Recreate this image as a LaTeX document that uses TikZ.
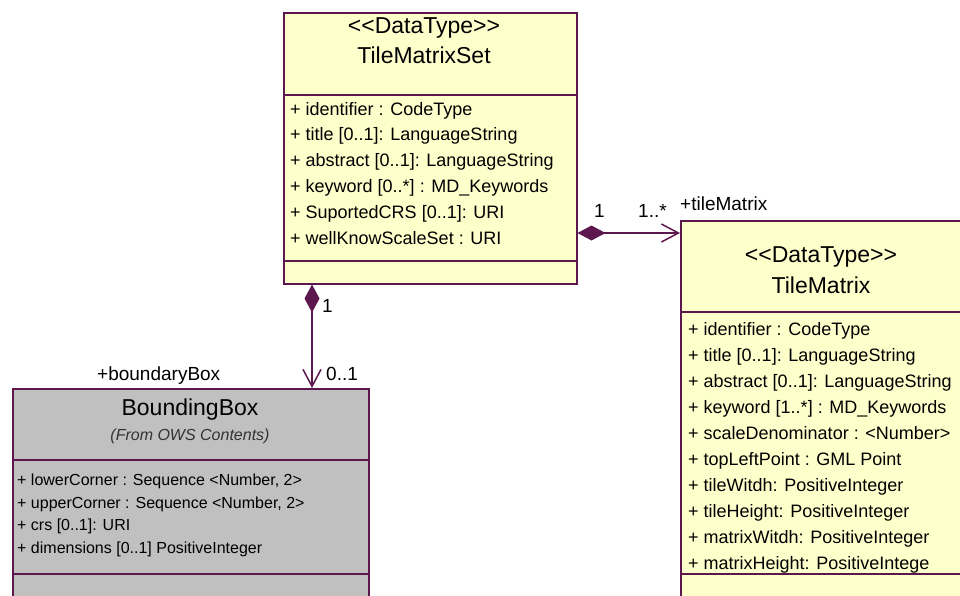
\documentclass[tikz,border=0pt]{standalone}
\usepackage{fontspec}
\setmainfont{Liberation Sans}
\usetikzlibrary{arrows.meta}
\definecolor{umlline}{RGB}{92,24,78}
\definecolor{umlfill}{RGB}{255,255,204}
\definecolor{umlgray}{RGB}{192,192,192}
\newcommand{\stereo}[1]{<\kern0pt<#1>\kern0pt>}
\begin{document}
\begin{tikzpicture}[x=1pt,y=-1pt,
  classbox/.style={draw=umlline, line width=1.5pt, fill=umlfill, inner sep=0pt, anchor=north west},
  graybox/.style={classbox, fill=umlgray},
  sepline/.style={draw=umlline, line width=1.5pt},
  titletext/.style={anchor=base, inner sep=0pt, font=\fontsize{23}{25}\selectfont},
  subtext/.style={anchor=base, inner sep=0pt, font=\fontsize{16}{18}\selectfont\itshape, text=black!80},
  attr/.style={anchor=base west, inner sep=0pt, font=\fontsize{18}{20}\selectfont},
  smallattr/.style={anchor=base west, inner sep=0pt, font=\fontsize{16}{18}\selectfont},
  lbl/.style={anchor=base west, inner sep=0pt, font=\fontsize{19}{21}\selectfont},
  comp/.style={draw=umlline, line width=1.5pt, {Diamond[length=28pt,width=15pt]}-{Straight Barb[length=17pt,width=18pt]}}
]
\useasboundingbox (0,0) rectangle (960,595);
\fill[white] (0,0) rectangle (960,595);
\clip (0,0) rectangle (960,595);

% TileMatrixSet
\node[classbox, minimum width=293pt, minimum height=271pt] (tms) at (283,12) {};
\draw[sepline] (tms.west |- 0,95) -- (tms.east |- 0,95);
\draw[sepline] (tms.west |- 0,261) -- (tms.east |- 0,261);
\node[titletext] (tmsst) at (424,33) {\stereo{DataType}};
\node[titletext] (tmsname) at (424,63) {TileMatrixSet};
\node[attr] (tmsa1) at (290,115) {+ identifier : CodeType};
\node[attr] (tmsa2) at (290,140.8) {+ title [0..1]: LanguageString};
\node[attr] (tmsa3) at (290,166.6) {+ abstract [0..1]: LanguageString};
\node[attr] (tmsa4) at (290,192.4) {+ keyword [0..*] : MD\_Keywords};
\node[attr] (tmsa5) at (290,218.2) {+ SuportedCRS [0..1]: URI};
\node[attr] (tmsa6) at (290,244) {+ wellKnowScaleSet : URI};

% TileMatrix
\node[classbox, minimum width=285pt, minimum height=400pt] (tm) at (680,220) {};
\draw[sepline] (tm.west |- 0,312) -- (tm.east |- 0,312);
\draw[sepline] (tm.west |- 0,574) -- (tm.east |- 0,574);
\node[titletext] (tmst) at (821,262) {\stereo{DataType}};
\node[titletext] (tmname) at (821,293) {TileMatrix};
\node[attr] (tma1) at (688,335) {+ identifier : CodeType};
\node[attr] (tma2) at (688,361) {+ title [0..1]: LanguageString};
\node[attr] (tma3) at (688,387) {+ abstract [0..1]: LanguageString};
\node[attr] (tma4) at (688,413) {+ keyword [1..*] : MD\_Keywords};
\node[attr] (tma5) at (688,439) {+ scaleDenominator : <Number>};
\node[attr] (tma6) at (688,465) {+ topLeftPoint : GML Point};
\node[attr] (tma7) at (688,491) {+ tileWitdh: PositiveInteger};
\node[attr] (tma8) at (688,517) {+ tileHeight: PositiveInteger};
\node[attr] (tma9) at (688,543) {+ matrixWitdh: PositiveInteger};
\node[attr] (tma10) at (688,569) {+ matrixHeight: PositiveIntege};

% BoundingBox
\node[graybox, minimum width=356pt, minimum height=220pt] (bb) at (12,388) {};
\draw[sepline] (bb.west |- 0,460) -- (bb.east |- 0,460);
\draw[sepline] (bb.west |- 0,574) -- (bb.east |- 0,574);
\node[titletext] (bbname) at (190,415) {BoundingBox};
\node[subtext] (bbsub) at (190,440) {(From OWS Contents)};
\node[smallattr] (bba1) at (17,485) {+ lowerCorner : Sequence <Number, 2>};
\node[smallattr] (bba2) at (17,508) {+ upperCorner : Sequence <Number, 2>};
\node[smallattr] (bba3) at (17,530.5) {+ crs [0..1]: URI};
\node[smallattr] (bba4) at (17,553) {+ dimensions [0..1] PositiveInteger};

% connectors
\draw[comp] (tms.east |- 0,233) -- (tm.west |- 0,233);
\draw[comp] (tms.south -| 312,0) -- (bb.north -| 312,0);

% labels
\node[lbl] (l1) at (594,217) {1};
\node[lbl] (l2) at (638,217) {1..*};
\node[lbl] (l3) at (680,210) {+tileMatrix};
\node[lbl] (l4) at (322,312) {1};
\node[lbl] (l5) at (326,380) {0..1};
\node[lbl] (l6) at (97,380) {+boundaryBox};
\end{tikzpicture}
\end{document}
